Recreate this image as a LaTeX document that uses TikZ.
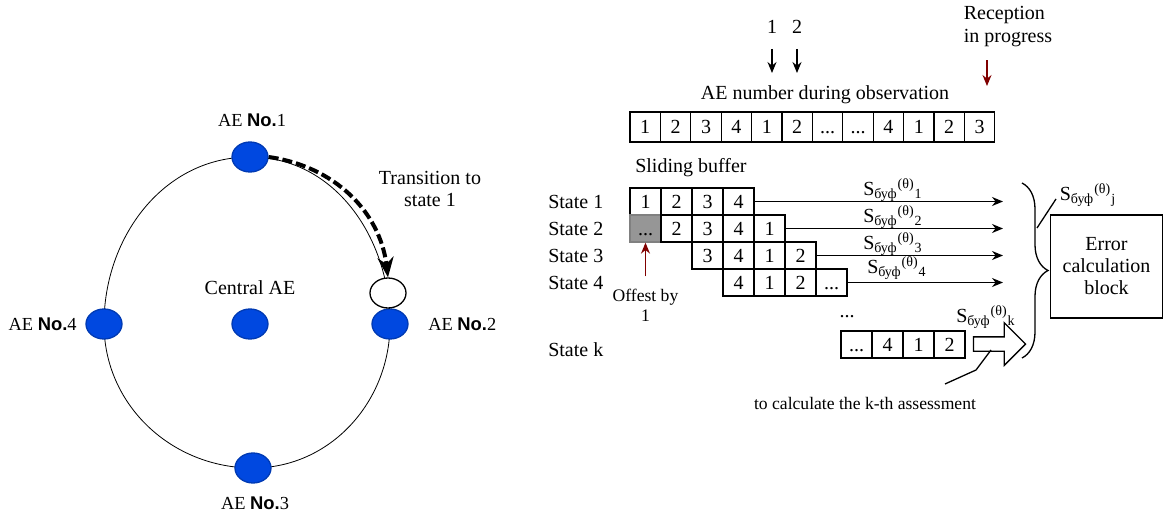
\documentclass[tikz,border=0pt]{standalone}
\usepackage{fontspec}
\setmainfont{Liberation Serif}
\setsansfont{Liberation Sans}
\usetikzlibrary{arrows.meta,shapes.geometric,shapes.arrows,decorations.pathreplacing,backgrounds}

\definecolor{aeblue}{RGB}{0,72,224}
\definecolor{offred}{RGB}{128,0,0}
\definecolor{bufgray}{RGB}{150,150,150}

\newcommand{\dd}{...}
\newcommand{\aeno}[1]{AE {\sffamily\bfseries No.}#1}
\newcommand{\sbuf}[1]{S\textsubscript{буф}\textsuperscript{(θ)}\textsubscript{#1}}

\begin{document}
\begin{tikzpicture}[x=0.5pt,y=0.5pt,line width=0.65pt,>={Stealth[length=5.5pt,width=4.5pt]},
    dot/.style={ellipse,draw=aeblue!80!black,fill=aeblue,minimum width=18pt,minimum height=15pt,inner sep=0pt},
    aelbl/.style={font=\fontsize{9.2}{11}\selectfont},
    cell/.style={draw,minimum width=15.5pt,minimum height=13.5pt,inner sep=0pt,text height=6.8pt,text depth=0pt},
    obs/.style={cell,minimum width=15.2pt,minimum height=15pt},
    small/.style={font=\fontsize{8.8}{10}\selectfont}]
  \useasboundingbox (0,0) rectangle (1164,-514);

  % antenna ring
  \node[dot] (ae1) at (250,-157) {};
  \node[dot] (ae2) at (390,-324) {};
  \node[dot] (ae3) at (253,-468) {};
  \node[dot] (ae4) at (104,-324) {};
  \node[dot] (cae) at (250,-324) {};
  \node[ellipse,draw,fill=white,minimum width=18pt,minimum height=15pt,inner sep=0pt] (nxt) at (388,-293) {};
  \begin{scope}[on background layer]
    \draw (ae1.center) to[out=0,in=90] (ae2.center) to[out=-90,in=0] (ae3.center)
      to[out=180,in=-90] (ae4.center) to[out=90,in=180] (ae1.center);
  \end{scope}
  \draw[line width=2pt,dash pattern=on 5pt off 2pt,-{Stealth[length=10pt,width=8pt]}]
    (ae1.east) to[out=-8,in=97] (nxt.north);

  \node[aelbl] (l1) at (252,-120) {\aeno{1}};
  \node[aelbl,anchor=west] (l2) at (421,-324) {\aeno{2}};
  \node[aelbl] (l3) at (255,-503) {\aeno{3}};
  \node[aelbl,anchor=west,inner xsep=0pt] (l4) at (8,-324) {\aeno{4}};
  \node (cl) at (250,-288) {Central AE};
  \node[align=center,font=\fontsize{10}{11}\selectfont] (tr) at (430,-189) {Transition to\\state 1};

  % observation sequence
  \node (k1) at (772,-27) {1};
  \node (k2) at (797,-27) {2};
  \coordinate (k1e) at (772,-73);
  \coordinate (k2e) at (797,-73);
  \draw[->,shorten <=4pt] (k1) -- (k1e);
  \draw[->,shorten <=4pt] (k2) -- (k2e);
  \node[align=left,font=\fontsize{10}{11.5}\selectfont] (rec) at (1008,-27) {Reception\\in progress};
  \coordinate (recs) at (987,-60);
  \coordinate (rece) at (987,-86);
  \draw[->,offred] (recs) -- (rece);
  \node (obsl) at (825,-95) {AE number during observation};
  \foreach \v [count=\i] in {1,2,3,4,1,2,\dd,\dd,4,1,2,3}
    \node[obs] (o\i) at ({630+30.4*(\i-0.5)},-127) {\v};

  % sliding buffer
  \node[anchor=west] (sb) at (628,-168) {Sliding buffer};
  \foreach \t/\y in {1/-202,2/-229,3/-256,4/-283,k/-350}
    \node[anchor=west] (st\t) at (541,\y) {State \t};
  \foreach \v [count=\i] in {1,2,3,4}
    \node[cell] (a\i) at ({630+31*(\i-0.5)},-201.5) {\v};
  \node[cell,fill=bufgray,draw=gray] (b1) at (645.5,-228.5) {\dd};
  \foreach \v [count=\i from 2] in {2,3,4,1}
    \node[cell] (b\i) at ({630+31*(\i-0.5)},-228.5) {\v};
  \foreach \v [count=\i] in {3,4,1,2}
    \node[cell] (c\i) at ({692+31*(\i-0.5)},-255.5) {\v};
  \foreach \v [count=\i] in {4,1,2,\dd}
    \node[cell] (d\i) at ({723+31*(\i-0.5)},-282.5) {\v};
  \foreach \v [count=\i] in {\dd,4,1,2}
    \node[cell] (f\i) at ({841+31*(\i-0.5)},-344.5) {\v};
  \node (vd) at (847,-317) {\dd};

  \node[small,align=center] (off) at (645.5,-305) {Offest by\\1};
  \draw[->,offred] ([yshift=2.5pt]off.north) -- (b1.south);

  % outputs of the states
  \coordinate (e1) at (1003,-201.5);
  \coordinate (e2) at (1003,-228.5);
  \coordinate (e3) at (1003,-255.5);
  \coordinate (e4) at (1003,-282.5);
  \draw[->] (a4.east) -- (e1);
  \draw[->] (b5.east) -- (e2);
  \draw[->] (c4.east) -- (e3);
  \draw[->] (d4.east) -- (e4);
  \node (s1) at (893,-190) {\sbuf{1}};
  \node (s2) at (893,-217) {\sbuf{2}};
  \node (s3) at (893,-244) {\sbuf{3}};
  \node (s4) at (897,-268) {\sbuf{4}};
  \node (sk) at (986,-317) {\sbuf{k}};
  \node[single arrow,draw,minimum height=26pt,minimum width=13.5pt,inner sep=3.25pt] (karr) at (996,-344) {};

  \coordinate (pa) at (991,-350);
  \coordinate (pb) at (976,-370);
  \coordinate (pc) at (945,-384);
  \draw (pa) -- (pb) -- (pc);
  \node[small] (calc) at (865,-403) {to calculate the k-th assessment};

  % error block
  \coordinate (bt) at (1022,-183);
  \coordinate (bb) at (1022,-358);
  \draw[decorate,decoration={brace,amplitude=13pt}] (bt) -- (bb);
  \node (sj) at (1088,-195) {\sbuf{j}};
  \coordinate (jb) at (1037,-228);
  \coordinate (jt) at (1056,-199);
  \draw (jb) -- (jt);
  \node[draw,align=center,font=\fontsize{10}{11}\selectfont,minimum width=56pt,minimum height=51.5pt] (err) at (1106.5,-266.5) {Error\\calculation\\block};
\end{tikzpicture}
\end{document}
